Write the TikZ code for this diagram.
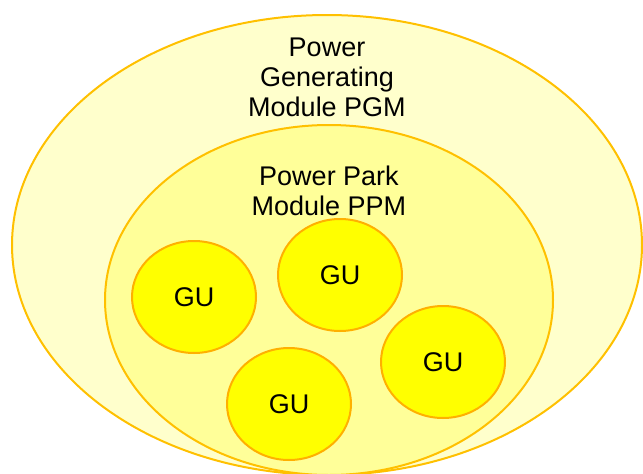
\documentclass[tikz,border=0pt]{standalone}
\usepackage{fontspec}
\setmainfont{Liberation Sans}
\usetikzlibrary{shapes.geometric}
\definecolor{outerfill}{HTML}{FFFFCC}
\definecolor{innerfill}{HTML}{FFFF99}
\definecolor{gufill}{HTML}{FFFF00}
\definecolor{ringcol}{HTML}{FFC000}
\definecolor{gucol}{HTML}{FFB000}
\tikzset{
  zone/.style={ellipse, draw=ringcol, line width=2pt, inner sep=0pt},
  gu/.style={ellipse, draw=gucol, fill=gufill, line width=2pt, inner sep=0pt,
             minimum width=124pt, minimum height=112pt,
             font=\fontsize{27}{30}\selectfont},
  lbl/.style={align=center, font=\fontsize{27}{30}\selectfont, inner sep=0pt}
}
\begin{document}
\begin{tikzpicture}[x=1pt,y=-1pt]
\useasboundingbox (0,0) rectangle (643,474);
\node[zone, fill=outerfill, minimum width=630pt, minimum height=460pt] (pgm) at (327,245) {};
\node[zone, fill=innerfill, minimum width=448pt, minimum height=350pt] (ppm) at (329,300) {};
\node[lbl] (pgmlabel) at (327,77) {Power\\Generating\\Module PGM};
\node[lbl] (ppmlabel) at (329,191) {Power Park\\Module PPM};
\node[gu] (gu1) at (194,297) {GU};
\node[gu] (gu2) at (340,275) {GU};
\node[gu] (gu3) at (443,362) {GU};
\node[gu] (gu4) at (289,404) {GU};
\end{tikzpicture}
\end{document}
